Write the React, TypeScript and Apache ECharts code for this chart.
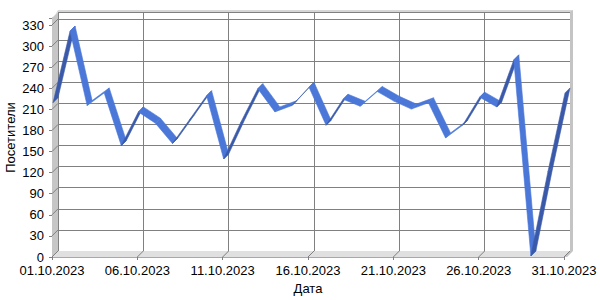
import React, { useEffect, useRef } from "react";
import * as echarts from "echarts";

const dates = [
  "01.10.2023", "02.10.2023", "03.10.2023", "04.10.2023", "05.10.2023", "06.10.2023",
  "07.10.2023", "08.10.2023", "09.10.2023", "10.10.2023", "11.10.2023", "12.10.2023",
  "13.10.2023", "14.10.2023", "15.10.2023", "16.10.2023", "17.10.2023", "18.10.2023",
  "19.10.2023", "20.10.2023", "21.10.2023", "22.10.2023", "23.10.2023", "24.10.2023",
  "25.10.2023", "26.10.2023", "27.10.2023", "28.10.2023", "29.10.2023", "30.10.2023",
  "31.10.2023",
];
const visitors = [
  218, 320, 214, 232, 157, 205, 189, 160, 194, 228, 138, 190, 238, 205, 214, 240,
  186, 223, 213, 234, 220, 209, 218, 168, 186, 226, 212, 279, 0, 120, 232,
];
const yTickValues = [0, 30, 60, 90, 120, 150, 180, 210, 240, 270, 300, 330];
const xTickDays = [1, 6, 11, 16, 21, 26, 31];
const yTitle = "Посетители";
const xTitle = "Дата";

const Y_MAX = 340;
const D = 6; // depth offset of the 3D box
const R = 5; // depth of the ribbon
const BACK = { left: 58, right: 30, top: 12, bottom: 49 };
const FRONT = { left: BACK.left - D, right: BACK.right + D, top: BACK.top + D, bottom: BACK.bottom - D };
const FONT = "'Liberation Sans Narrow', 'Liberation Sans', Arial, sans-serif";
const LIGHT = "#4a77d8";
const DARK = "#3a5aa9";
const GRID = "#808080";

export default function App() {
  const ref = useRef<HTMLDivElement>(null);
  useEffect(() => {
    if (!ref.current) return;
    const chart = echarts.init(ref.current, null, { renderer: "svg" });
    const segments = visitors.slice(0, -1).map((v, i) => [i + 1, v, i + 2, visitors[i + 1]]);
    chart.setOption({
      animation: false,
      backgroundColor: "#ffffff",
      grid: [
        { ...BACK, containLabel: false },
        { ...FRONT, containLabel: false },
      ],
      xAxis: [
        {
          type: "value", gridIndex: 0, min: 1, max: 31, interval: 5,
          axisLabel: { show: false }, axisTick: { show: false }, axisLine: { show: false },
          splitLine: { show: true, lineStyle: { color: GRID, width: 1 } },
        },
        {
          type: "value", gridIndex: 1, min: 1, max: 31, interval: 5,
          axisLabel: {
            formatter: (v: number) => dates[v - 1] ?? "",
            color: "#000", fontFamily: FONT, fontSize: 13, margin: 7,
          },
          axisTick: { show: true, length: 3, lineStyle: { color: GRID } },
          axisLine: { show: true, lineStyle: { color: "#a8a8a8" } },
          splitLine: { show: false },
          name: xTitle, nameLocation: "middle", nameGap: 24,
          nameTextStyle: { color: "#000", fontFamily: FONT, fontSize: 13 },
        },
      ],
      yAxis: [
        {
          type: "value", gridIndex: 0, min: 0, max: Y_MAX, interval: 30,
          axisLabel: { show: false }, axisTick: { show: false }, axisLine: { show: false },
          splitLine: { show: true, lineStyle: { color: GRID, width: 1 } },
        },
        {
          type: "value", gridIndex: 1, min: 0, max: Y_MAX, interval: 30,
          axisLabel: {
            formatter: (v: number) => (yTickValues.includes(v) ? String(v) : ""),
            color: "#000", fontFamily: FONT, fontSize: 13, margin: 8,
            padding: [3, 0, 0, 0],
          },
          axisTick: { show: true, length: 3, lineStyle: { color: GRID } },
          axisLine: { show: true, lineStyle: { color: GRID } },
          splitLine: { show: false },
        },
      ],
      series: [
        {
          type: "custom",
          xAxisIndex: 0, yAxisIndex: 0,
          clip: false, z: 10,
          data: segments,
          encode: { x: [0, 2], y: [1, 3] },
          renderItem: (params: any, api: any) => {
            const p0 = api.coord([api.value(0), api.value(1)]);
            const p1 = api.coord([api.value(2), api.value(3)]);
            const dx = p1[0] - p0[0];
            const dy = p1[1] - p0[1];
            const color = dx + dy < 0 ? DARK : LIGHT;
            return {
              type: "polygon",
              shape: { points: [p0, p1, [p1[0] - R, p1[1] + R], [p0[0] - R, p0[1] + R]] },
              style: { fill: color, stroke: color, lineWidth: 0.6 },
            };
          },
        },
      ],
    });

    // 3D box decoration (walls, floor, edges) placed from the axes' own scales
    const W = 600, H = 300;
    const GL = BACK.left, GR = W - BACK.right, GT = BACK.top, GB = H - BACK.bottom;
    const elements: any[] = [];
    elements.push({
      type: "polygon", z: 1,
      shape: { points: [[GL - D, GT + D], [GL, GT], [GL, GB], [GL - D, GB + D]] },
      style: { fill: "#c6c6c6" },
    });
    elements.push({
      type: "polygon", z: 1,
      shape: { points: [[GL, GB], [GR, GB], [GR - D, GB + D], [GL - D, GB + D]] },
      style: { fill: "#e0e0e0" },
    });
    elements.push({
      type: "polygon", z: 1,
      shape: { points: [[GR, GT - 1], [GR + 3, GT - 2], [GR + 3, GB], [GR - D + 3, GB + D], [GR - D, GB + D], [GR, GB]] },
      style: { fill: "#c4c4c4" },
    });
    elements.push({
      type: "polygon", z: 1,
      shape: { points: [[GL - D, GT + D], [GL - D + 3, GT + D - 3], [GL, GT - 2], [GR + 3, GT - 2], [GR, GT], [GL, GT]] },
      style: { fill: "#d6d6d6" },
    });
    yTickValues.forEach((v) => {
      const p = chart.convertToPixel({ gridIndex: 0 }, [1, v]) as number[];
      elements.push({
        type: "line", z: 2,
        shape: { x1: p[0] - D, y1: p[1] + D, x2: p[0], y2: p[1] },
        style: { stroke: GRID, lineWidth: 1 },
      });
    });
    xTickDays.forEach((d) => {
      const p = chart.convertToPixel({ gridIndex: 0 }, [d, 0]) as number[];
      elements.push({
        type: "line", z: 2,
        shape: { x1: p[0] - D, y1: p[1] + D, x2: p[0], y2: p[1] },
        style: { stroke: GRID, lineWidth: 1 },
      });
    });
    elements.push({
      type: "text", z: 3,
      x: 10, y: (FRONT.top + (H - FRONT.bottom)) / 2,
      rotation: Math.PI / 2,
      style: {
        text: yTitle, fill: "#000", font: `13px ${FONT}`,
        align: "center", verticalAlign: "middle",
      },
    });
    chart.setOption({ graphic: { elements } });

    return () => chart.dispose();
  }, []);
  return (
    <div
      ref={ref}
      style={{ position: "fixed", left: 0, top: 0, width: 600, height: 300 }}
    />
  );
}
